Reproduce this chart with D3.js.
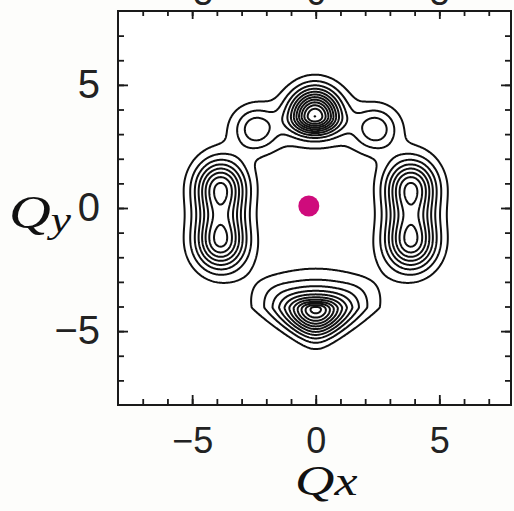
<!DOCTYPE html>
<html><head><meta charset="utf-8">
<script src="https://cdn.jsdelivr.net/npm/d3@7"></script>
<style>html,body{margin:0;padding:0;background:#fdfdfb;} svg{display:block}</style>
</head><body>
<svg id="chart" width="514" height="511"></svg>
<script>
// Intensity peaks of the map in (Qx, Qy) units: centre, height, widths, profile exponents
const peakX     = [-0.03, 0.0, -2.43, 2.43, -3.85, -3.85, 3.85, 3.85, 0.0, -1.7, 1.7];
const peakY     = [3.73, 3.3, 3.2, 3.2, 0.8, -1.35, 0.8, -1.35, -4.05, -3.35, -3.35];
const peakAmp   = [11.0, 1.1, 3.1, 3.1, 8.05, 8.05, 8.05, 8.05, 11.5, 0.4, 0.4];
const peakSx    = [0.68, 2.6, 0.6, 0.6, 0.72, 0.72, 0.72, 0.72, 1.08, 0.55, 0.55];
const peakSUp   = [0.75, 1.0, 0.6, 0.6, 0.8, 0.88, 0.8, 0.88, 0.65, 0.4, 0.4];
const peakSDown = [0.48, 1.0, 0.6, 0.6, 0.88, 0.8, 0.88, 0.8, 0.76, 0.4, 0.4];
const peakPUp   = [2, 2, 2, 2, 2, 2, 2, 2, 1, 2, 2];
const peakPDown = [2, 2, 2, 2, 2, 2, 2, 2, 2, 2, 2];
const peakTaper = [0, 0, 0, 0, 0, 0, 0, 0, 0.25, 0, 0];

// contour levels
const levels = [1, 2, 3, 4, 5, 6, 7, 8, 9, 10, 11, 12];

// origin marker
const marker = [-0.28, 0.08];

// axis ticks
const majorTicks = [-5, 0, 5];
const minorTicksX = [-7, -6, -5, -4, -3, -2, -1, 0, 1, 2, 3, 4, 5, 6, 7];
const minorTicksY = [-7, -6, -5, -4, -3, -2, -1, 0, 1, 2, 3, 4, 5, 6, 7];

const svg = d3.select("#chart");
const L = 118, R = 511, T = 11, B = 405;
const x = d3.scaleLinear().domain([-8, 7.9]).range([L, R]);
const y = d3.scaleLinear().domain([-8, 8]).range([B, T]);

function field(px, py) {
  let v = 0;
  for (let i = 0; i < peakX.length; i++) {
    const dy = py - peakY[i];
    const sy = dy >= 0 ? peakSUp[i] : peakSDown[i];
    let sx = peakSx[i];
    if (dy < 0 && peakTaper[i]) sx *= Math.max(0.35, 1 + peakTaper[i] * dy / sy);
    const u = (px - peakX[i]) / sx, w = dy / sy;
    const r = Math.hypot(u, w);
    if (r === 0) { v += peakAmp[i]; continue; }
    const t = (w / r + 1) / 2;
    const p = peakPDown[i] + (peakPUp[i] - peakPDown[i]) * t;
    v += peakAmp[i] * Math.exp(-Math.pow(r, p) / p);
  }
  return v;
}

// sample the map on a regular grid
const step = 0.04, g0 = -8;
const n = Math.round(16 / step) + 1;
const values = new Float64Array(n * n);
for (let j = 0; j < n; j++) {
  for (let i = 0; i < n; i++) {
    values[j * n + i] = field(g0 + i * step, g0 + j * step);
  }
}

const contours = d3.contours().size([n, n]).thresholds(levels)(values);
const proj = d3.geoTransform({
  point: function(gx, gy) {
    this.stream.point(x(g0 + (gx - 0.5) * step), y(g0 + (gy - 0.5) * step));
  }
});
const path = d3.geoPath(proj);

svg.append("rect").attr("x", L).attr("y", T).attr("width", R - L).attr("height", B - T)
  .attr("fill", "#ffffff");

svg.append("g")
  .attr("fill", "none").attr("stroke", "#111").attr("stroke-width", 2)
  .attr("stroke-linejoin", "round")
  .selectAll("path").data(contours).join("path").attr("d", path);

svg.append("circle").attr("cx", x(marker[0])).attr("cy", y(marker[1])).attr("r", 10.5)
  .attr("fill", "#cf0b7c");

// frame
svg.append("rect").attr("x", L).attr("y", T).attr("width", R - L).attr("height", B - T)
  .attr("fill", "none").attr("stroke", "#1a1a1a").attr("stroke-width", 2);

const fmt = d3.format("d");
function styleAxis(g, size) {
  g.select(".domain").remove();
  g.selectAll(".tick line").attr("stroke", "#1a1a1a").attr("stroke-width", 1.8);
  g.selectAll("text").attr("font-family", "'Liberation Sans', Arial, sans-serif")
    .attr("font-size", size).attr("fill", "#222");
}

// minor ticks on all four sides
svg.append("g").attr("transform", `translate(0,${B})`)
  .call(d3.axisBottom(x).tickValues(minorTicksX).tickSize(-6).tickFormat(""))
  .call(g => styleAxis(g, 0));
svg.append("g").attr("transform", `translate(0,${T})`)
  .call(d3.axisTop(x).tickValues(minorTicksX).tickSize(-5).tickFormat(""))
  .call(g => styleAxis(g, 0));
svg.append("g").attr("transform", `translate(${L},0)`)
  .call(d3.axisLeft(y).tickValues(minorTicksY).tickSize(-6).tickFormat(""))
  .call(g => styleAxis(g, 0));
svg.append("g").attr("transform", `translate(${R},0)`)
  .call(d3.axisRight(y).tickValues(minorTicksY).tickSize(-6).tickFormat(""))
  .call(g => styleAxis(g, 0));

// major ticks with labels
svg.append("g").attr("transform", `translate(0,${B})`)
  .call(d3.axisBottom(x).tickValues(majorTicks).tickSize(-10).tickPadding(22).tickFormat(fmt))
  .call(g => styleAxis(g, 36));
svg.append("g").attr("transform", `translate(0,${T})`)
  .call(d3.axisTop(x).tickValues(majorTicks).tickSize(-8).tickPadding(6).tickFormat(fmt))
  .call(g => styleAxis(g, 36));
svg.append("g").attr("transform", `translate(${L},0)`)
  .call(d3.axisLeft(y).tickValues(majorTicks).tickSize(-10).tickPadding(18).tickFormat(fmt))
  .call(g => styleAxis(g, 40));
svg.append("g").attr("transform", `translate(${R},0)`)
  .call(d3.axisRight(y).tickValues(majorTicks).tickSize(-10).tickFormat(""))
  .call(g => styleAxis(g, 0));

// axis titles (math italic, set a little wide)
const ttl = "'Liberation Serif', 'Times New Roman', serif";
const qy = svg.append("text").attr("transform", "translate(9,228) scale(1.26,1)")
  .attr("font-family", ttl).attr("font-style", "italic").attr("fill", "#111");
qy.append("tspan").attr("font-size", 46).text("Q");
qy.append("tspan").attr("font-size", 36).attr("dy", 4).text("y");

const qx = svg.append("text").attr("transform", "translate(295,495) scale(1.3,1)")
  .attr("font-family", ttl).attr("font-style", "italic").attr("fill", "#111");
qx.append("tspan").attr("font-size", 42).text("Q");
qx.append("tspan").attr("font-size", 40).text("x");
</script>
</body></html>
